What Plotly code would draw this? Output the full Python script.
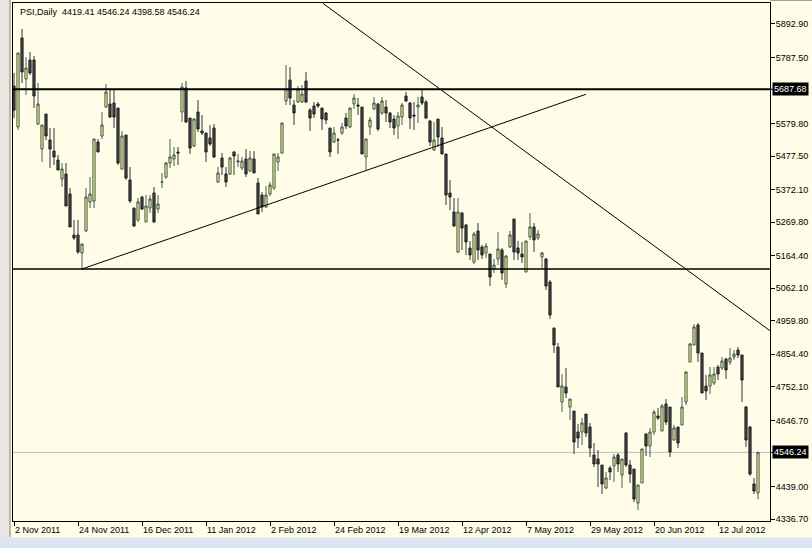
import plotly.graph_objects as go

# ---- data (PSI daily, bar index 0 = 2 Nov 2011) ----
opens = [5698.0, 5569.1, 5848.9, 5720.0, 5779.7, 5779.7, 5578.5, 5499.9, 5609.9, 5528.2,
         5493.6, 5465.3, 5405.6, 5421.3, 5358.4, 5229.6, 5229.6, 5173.0, 5242.2, 5333.3,
         5336.4, 5521.9, 5540.8, 5631.9, 5641.4, 5644.5, 5628.8, 5437.0, 5543.9, 5402.5,
         5314.4, 5276.7, 5349.0, 5270.5, 5314.4, 5361.6, 5311.3, 5396.2, 5411.9, 5455.9,
         5468.5, 5490.5, 5616.2, 5691.6, 5597.3, 5509.4, 5616.2, 5556.5, 5550.2, 5534.5,
         5565.9, 5396.2, 5471.6, 5421.3, 5421.3, 5490.5, 5459.0, 5440.2, 5468.5, 5430.7,
         5468.5, 5393.0, 5355.3, 5317.6, 5358.4, 5377.3, 5459.0, 5487.3, 5650.8, 5716.8,
         5638.2, 5647.7, 5647.7, 5713.7, 5622.5, 5635.1, 5641.4, 5628.8, 5613.1, 5565.9,
         5521.9, 5528.2, 5550.2, 5597.3, 5569.1, 5641.4, 5638.2, 5631.9, 5474.8, 5569.1,
         5625.6, 5641.4, 5613.1, 5631.9, 5613.1, 5594.2, 5572.2, 5600.5, 5666.5, 5644.5,
         5606.8, 5631.9, 5663.4, 5647.7, 5587.9, 5496.8, 5594.2, 5534.5, 5484.2, 5361.6,
         5301.8, 5176.1, 5298.7, 5261.0, 5188.7, 5144.7, 5242.2, 5191.8, 5173.0, 5169.8,
         5122.7, 5154.1, 5182.4, 5075.5, 5191.8, 5279.9, 5188.7, 5169.8, 5113.2, 5223.3,
         5254.7, 5220.2, 5160.4, 5154.1, 5081.8, 4937.2, 4877.4, 4704.5, 4751.7, 4688.7,
         4676.2, 4610.2, 4610.2, 4666.7, 4625.9, 4537.9, 4525.3, 4506.5, 4434.1, 4497.1,
         4503.4, 4537.9, 4475.0, 4607.0, 4506.5, 4493.9, 4387.0, 4449.9, 4603.9, 4566.2,
         4610.2, 4660.5, 4613.3, 4698.2, 4688.7, 4585.1, 4625.9, 4632.2, 4704.5, 4830.3,
         4883.7, 4946.6, 4858.6, 4754.8, 4754.8, 4764.2, 4814.5, 4811.4, 4839.7, 4830.3,
         4846.0, 4868.0, 4852.3, 4688.7, 4625.9, 4446.7, 4419.41]
highs = [5738.8, 5801.7, 5877.2, 5789.1, 5804.9, 5792.3, 5707.4, 5575.3, 5609.9, 5565.9,
         5565.9, 5481.1, 5455.9, 5455.9, 5377.3, 5276.7, 5276.7, 5201.3, 5377.3, 5411.9,
         5531.3, 5531.3, 5616.2, 5704.3, 5685.4, 5685.4, 5628.8, 5556.5, 5543.9, 5443.3,
         5314.4, 5345.9, 5352.1, 5355.3, 5355.3, 5380.5, 5355.3, 5424.5, 5459.0, 5531.3,
         5506.2, 5506.2, 5707.4, 5713.7, 5597.3, 5597.3, 5654.0, 5606.8, 5550.2, 5575.3,
         5578.5, 5443.3, 5487.3, 5443.3, 5474.8, 5493.6, 5484.2, 5474.8, 5499.9, 5493.6,
         5493.6, 5408.7, 5364.7, 5383.6, 5396.2, 5484.2, 5487.3, 5581.6, 5764.0, 5757.7,
         5654.0, 5698.0, 5701.1, 5742.0, 5628.8, 5647.7, 5647.7, 5628.8, 5616.2, 5565.9,
         5569.1, 5534.5, 5581.6, 5613.1, 5628.8, 5672.8, 5660.2, 5631.9, 5531.3, 5600.5,
         5663.4, 5644.5, 5663.4, 5654.0, 5616.2, 5606.8, 5616.2, 5644.5, 5679.1, 5647.7,
         5647.7, 5663.4, 5688.5, 5654.0, 5591.1, 5584.8, 5594.2, 5569.1, 5484.2, 5402.5,
         5345.9, 5345.9, 5301.8, 5264.2, 5210.7, 5239.0, 5267.3, 5198.1, 5204.5, 5169.8,
         5154.1, 5239.0, 5188.7, 5166.7, 5242.2, 5279.9, 5210.7, 5207.6, 5210.7, 5298.7,
         5267.3, 5245.3, 5176.1, 5157.3, 5088.1, 4937.2, 4890.0, 4792.5, 4811.4, 4713.9,
         4676.2, 4635.3, 4654.2, 4666.7, 4638.4, 4575.6, 4553.6, 4506.5, 4484.5, 4503.4,
         4541.0, 4544.2, 4525.3, 4610.2, 4522.2, 4493.9, 4443.6, 4556.8, 4607.0, 4622.8,
         4679.3, 4685.6, 4698.2, 4713.9, 4688.7, 4632.2, 4625.9, 4720.2, 4802.0, 4890.0,
         4949.8, 4952.9, 4858.6, 4789.4, 4814.5, 4814.5, 4820.8, 4846.0, 4842.8, 4874.3,
         4868.0, 4877.4, 4852.3, 4691.9, 4629.0, 4465.6, 4546.24]
lows = [5597.3, 5559.6, 5707.4, 5669.6, 5732.6, 5628.8, 5575.3, 5459.0, 5528.2, 5440.2,
        5449.6, 5433.9, 5380.5, 5320.7, 5254.7, 5213.9, 5169.8, 5119.5, 5239.0, 5314.4,
        5314.4, 5490.5, 5531.3, 5628.8, 5597.3, 5565.9, 5449.6, 5433.9, 5402.5, 5330.1,
        5254.7, 5270.5, 5308.1, 5270.5, 5298.7, 5267.3, 5298.7, 5377.3, 5405.6, 5440.2,
        5446.5, 5449.6, 5584.8, 5581.6, 5484.2, 5506.2, 5553.3, 5543.9, 5459.0, 5509.4,
        5471.6, 5393.0, 5418.2, 5380.5, 5418.2, 5418.2, 5443.3, 5433.9, 5411.9, 5427.6,
        5424.5, 5295.6, 5301.8, 5314.4, 5352.1, 5371.0, 5430.7, 5484.2, 5638.2, 5638.2,
        5575.3, 5644.5, 5644.5, 5644.5, 5556.5, 5597.3, 5628.8, 5559.6, 5578.5, 5474.8,
        5518.8, 5484.2, 5543.9, 5562.8, 5565.9, 5625.6, 5606.8, 5484.2, 5430.7, 5543.9,
        5622.5, 5556.5, 5606.8, 5584.8, 5565.9, 5543.9, 5531.3, 5575.3, 5647.7, 5562.8,
        5559.6, 5581.6, 5638.2, 5594.2, 5509.4, 5493.6, 5506.2, 5484.2, 5323.9, 5308.1,
        5254.7, 5173.0, 5182.4, 5166.7, 5151.0, 5138.4, 5151.0, 5154.1, 5157.3, 5069.2,
        5110.1, 5135.2, 5088.1, 5062.9, 5188.7, 5151.0, 5151.0, 5141.5, 5113.2, 5213.9,
        5176.1, 5213.9, 5125.8, 5056.6, 4965.5, 4858.6, 4751.7, 4673.0, 4717.0, 4647.9,
        4541.0, 4559.9, 4569.3, 4594.5, 4531.6, 4500.2, 4437.3, 4415.3, 4431.0, 4459.3,
        4453.0, 4484.5, 4434.1, 4500.2, 4449.9, 4390.2, 4365.0, 4449.9, 4534.8, 4531.6,
        4600.8, 4647.9, 4613.3, 4632.2, 4531.6, 4581.9, 4559.9, 4632.2, 4695.0, 4830.3,
        4883.7, 4830.3, 4732.8, 4710.8, 4729.6, 4757.9, 4773.7, 4805.1, 4776.8, 4820.8,
        4836.6, 4842.8, 4704.5, 4563.0, 4471.9, 4415.3, 4398.58]
closes = [5622.5, 5801.7, 5742.0, 5754.5, 5738.8, 5666.5, 5641.4, 5575.3, 5540.8, 5499.9,
          5474.8, 5433.9, 5437.0, 5320.7, 5254.7, 5220.2, 5176.1, 5201.3, 5349.0, 5358.4,
          5531.3, 5490.5, 5575.3, 5679.1, 5600.5, 5600.5, 5455.9, 5540.8, 5408.7, 5336.4,
          5257.9, 5333.3, 5311.3, 5320.7, 5342.7, 5270.5, 5327.0, 5396.2, 5455.9, 5474.8,
          5481.1, 5487.3, 5694.8, 5584.8, 5503.1, 5594.2, 5562.8, 5550.2, 5490.5, 5515.6,
          5474.8, 5424.5, 5443.3, 5396.2, 5471.6, 5477.9, 5462.2, 5462.2, 5421.3, 5471.6,
          5424.5, 5295.6, 5317.6, 5355.3, 5386.7, 5484.2, 5474.8, 5581.6, 5688.5, 5660.2,
          5613.1, 5688.5, 5672.8, 5647.7, 5597.3, 5609.9, 5635.1, 5594.2, 5591.1, 5490.5,
          5550.2, 5528.2, 5569.1, 5572.2, 5628.8, 5660.2, 5635.1, 5484.2, 5531.3, 5591.1,
          5644.5, 5562.8, 5650.8, 5613.1, 5584.8, 5565.9, 5603.6, 5638.2, 5650.8, 5597.3,
          5603.6, 5638.2, 5644.5, 5597.3, 5521.9, 5528.2, 5537.6, 5484.2, 5355.3, 5349.0,
          5257.9, 5301.8, 5251.6, 5207.6, 5166.7, 5232.7, 5182.4, 5166.7, 5195.0, 5097.5,
          5135.2, 5185.6, 5110.1, 5163.5, 5229.6, 5176.1, 5173.0, 5160.4, 5210.7, 5254.7,
          5213.9, 5232.7, 5173.0, 5069.2, 4978.0, 4883.7, 4751.7, 4754.8, 4732.8, 4713.9,
          4578.8, 4591.3, 4638.4, 4607.0, 4559.9, 4509.6, 4509.6, 4446.7, 4465.6, 4484.5,
          4531.6, 4509.6, 4525.3, 4506.5, 4478.2, 4399.6, 4443.6, 4556.8, 4566.2, 4610.2,
          4673.0, 4654.2, 4691.9, 4641.6, 4547.3, 4622.8, 4575.6, 4688.7, 4798.8, 4886.9,
          4940.3, 4858.6, 4732.8, 4739.1, 4789.4, 4792.5, 4792.5, 4833.4, 4805.1, 4842.8,
          4855.4, 4852.3, 4773.7, 4585.1, 4478.2, 4424.7, 4546.24]

date_labels = ["2 Nov 2011", "24 Nov 2011", "16 Dec 2011", "11 Jan 2012", "2 Feb 2012",
               "24 Feb 2012", "19 Mar 2012", "12 Apr 2012", "7 May 2012", "29 May 2012",
               "20 Jun 2012", "12 Jul 2012"]
label_step = 16
price_ticks = [5892.90, 5787.50, 5579.80, 5477.50, 5372.10, 5269.80, 5164.40, 5062.10,
               4959.80, 4854.40, 4752.10, 4646.70, 4439.00, 4336.70]

resistance = 5687.68
support = 5122.7
last_price = 4546.24
up_trend = [(17, 5122.7), (143, 5672.0)]
down_trend = [(77.2, 5958.0), (189, 4928.7)]
title_text = "PSI,Daily  4419.41 4546.24 4398.58 4546.24"

n = len(closes)
xs = list(range(n))

# ---- figure geometry ----
W, H = 812, 548
L, R, T, B = 13, 770, 3, 521
y_lo, y_hi = 4330.4, 5958.9
x_lo, x_hi = -0.25, 189.0

def px_x(p):
    return (p - L) / (R - L)

def px_y(p):
    return (B - p) / (B - T)

FONT = "Liberation Sans, Arial, sans-serif"
FS = 9
BG = "#fffde8"

fig = go.Figure()
fig.add_trace(go.Candlestick(
    x=xs, open=opens, high=highs, low=lows, close=closes,
    increasing=dict(line=dict(color="#2f4f4f", width=0.9), fillcolor="#f4ea78"),
    decreasing=dict(line=dict(color="#1e1e1e", width=0.9), fillcolor="#444444"),
    whiskerwidth=0, hoverinfo="skip", showlegend=False,
))

shapes = []
shapes.append(dict(type="line", xref="x", yref="y", x0=x_lo, x1=x_hi, y0=last_price, y1=last_price,
                   line=dict(color="#c0c0c0", width=1), layer="below"))
shapes.append(dict(type="line", xref="x", yref="y", x0=x_lo, x1=x_hi, y0=support, y1=support,
                   line=dict(color="black", width=1.3)))
shapes.append(dict(type="line", xref="x", yref="y", x0=x_lo, x1=x_hi, y0=resistance, y1=resistance,
                   line=dict(color="black", width=2.2)))
shapes.append(dict(type="line", xref="x", yref="y", x0=up_trend[0][0], y0=up_trend[0][1],
                   x1=up_trend[1][0], y1=up_trend[1][1], line=dict(color="black", width=1)))
shapes.append(dict(type="line", xref="x", yref="y", x0=down_trend[0][0], y0=down_trend[0][1],
                   x1=down_trend[1][0], y1=down_trend[1][1], line=dict(color="black", width=1)))
# window decorations
shapes.append(dict(type="rect", xref="paper", yref="paper", x0=px_x(0), x1=px_x(9.5),
                   y0=px_y(548), y1=px_y(0), fillcolor="#e8e6df", line=dict(width=0), layer="below"))
shapes.append(dict(type="line", xref="paper", yref="paper", x0=px_x(10), x1=px_x(10),
                   y0=px_y(537), y1=px_y(0), line=dict(color="#7a7a7a", width=1)))
shapes.append(dict(type="rect", xref="paper", yref="paper", x0=px_x(0), x1=px_x(812),
                   y0=px_y(548), y1=px_y(537.5), fillcolor="#dce6f2", line=dict(width=0)))
shapes.append(dict(type="line", xref="paper", yref="paper", x0=px_x(770), x1=px_x(812),
                   y0=px_y(0.5), y1=px_y(0.5), line=dict(color="#a0a0a0", width=1)))
for v in (resistance, last_price):
    shapes.append(dict(type="line", xref="paper", yref="y", x0=1.0, x1=px_x(774),
                       y0=v, y1=v, line=dict(color="black", width=1)))

annotations = [
    dict(text=title_text, xref="paper", yref="paper", x=px_x(18), y=px_y(12),
         xanchor="left", yanchor="middle", showarrow=False,
         font=dict(family=FONT, size=FS, color="black")),
]
for v in (resistance, last_price):
    annotations.append(dict(text=f"{v:.2f}", xref="paper", yref="y", x=px_x(771.5), y=v,
                            xanchor="left", yanchor="middle", showarrow=False,
                            bgcolor="black", borderpad=1,
                            font=dict(family=FONT, size=FS, color="white")))

fig.update_layout(
    width=W, height=H,
    margin=dict(l=L, r=W - R, t=T, b=H - B),
    paper_bgcolor=BG, plot_bgcolor=BG,
    font=dict(family=FONT, size=FS, color="black"),
    showlegend=False, boxgap=0.2, hovermode=False,
    shapes=shapes, annotations=annotations,
    xaxis=dict(range=[x_lo, x_hi], rangeslider=dict(visible=False),
               tickmode="array", tickvals=[i * label_step for i in range(len(date_labels))],
               ticktext=date_labels, ticks="outside", ticklen=4, tickcolor="black",
               ticklabelposition="outside right", tickangle=0,
               showgrid=False, zeroline=False, showline=True, linecolor="black",
               linewidth=1, mirror=True, tickfont=dict(family=FONT, size=FS, color="black")),
    yaxis=dict(range=[y_lo, y_hi], side="right", tickmode="array", tickvals=price_ticks,
               ticktext=[f"{v:.2f}" for v in price_ticks], ticks="outside", ticklen=4,
               tickcolor="black", showgrid=False, zeroline=False, showline=True,
               linecolor="black", linewidth=1, mirror=True, ticklabelstandoff=-1,
               tickfont=dict(family=FONT, size=FS, color="black")),
)

fig.write_html("out.html", config={"displayModeBar": False},
               post_script="document.body.style.margin='0';document.body.style.padding='0';")
